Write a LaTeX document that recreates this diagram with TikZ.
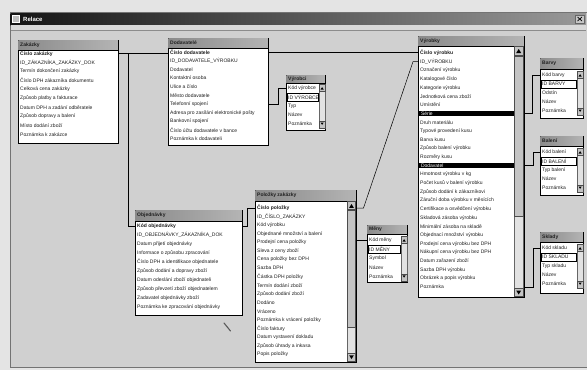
\documentclass[tikz,border=0pt]{standalone}
\usepackage{fontspec}
\setmainfont{Liberation Sans}
\usetikzlibrary{calc}
\definecolor{outer}{HTML}{E4E4E4}
\definecolor{client}{HTML}{D0D0D0}
\definecolor{hdrL}{HTML}{8A8A8A}
\definecolor{hdrR}{HTML}{B4B4B4}
\definecolor{hdrtxt}{HTML}{202020}
\definecolor{txt}{HTML}{1E1E1E}
\definecolor{sbtrack}{HTML}{E2E2E2}
\definecolor{sbbtn}{HTML}{C4C4C4}
\tikzset{
  tbox/.style={draw=black, line width=0.5pt, fill=white, rectangle, inner sep=0pt},
  rowtext/.style={font=\fontsize{5}{6}\selectfont, text=txt, inner sep=0pt, anchor=west},
  hdrtext/.style={font=\fontsize{5}{6}\selectfont\bfseries, text=hdrtxt, inner sep=0pt, anchor=west},
  link/.style={draw=black, line width=0.5pt},
  sbar/.style={fill=sbtrack, draw=black!60, line width=0.3pt},
  sbtn/.style={fill=sbbtn, draw=black!70, line width=0.3pt},
}
\newcommand\hlrow[1]{\setlength{\fboxsep}{0.8pt}\hspace*{-1.5pt}\colorbox{black}{\makebox[94pt][l]{\hspace*{1.5pt}\textcolor{white}{#1}}}}
\def\hh{10}
% #1 name, #2 x, #3 y, #4 w, #5 h, #6 title, #7 first row offset, #8 spacing, #9 rows
\newcommand\flist[9]{%
  \node[tbox, minimum width=#4pt, minimum height=#5pt, anchor=north west] (#1) at (#2,#3) {};
  \shade[left color=hdrL, right color=hdrR] ({#2+0.25},{#3+0.25}) rectangle ({#2+#4-0.25},{#3+\hh});
  \draw[line width=0.4pt] ({#2},{#3+\hh}) -- ({#2+#4},{#3+\hh});
  \node[hdrtext] (#1-t) at ({#2+2},{#3+\hh/2}) {#6};
  \foreach \txt [count=\i] in {#9} {
    \node[rowtext] (#1-r\i) at ({#2+2},{#3+#7+(\i-1)*#8}) {\txt};
  }
}
% small table extras: focus box on row 2, scroll arrows
\newcommand\smallextras[1]{%
  \draw[line width=0.3pt] ($(#1.west |- #1-r2)+(1,-4)$) rectangle ($(#1.east |- #1-r2)+(-7,4)$);
  \filldraw[sbar] ($(#1.east |- #1-r1)+(-6,-4)$) rectangle ($(#1.east |- #1-r5)+(-0.8,4)$);
  \filldraw[sbtn] ($(#1.east |- #1-r1)+(-6,-4)$) rectangle ($(#1.east |- #1-r1)+(-0.8,3)$);
  \filldraw[sbtn] ($(#1.east |- #1-r5)+(-6,-3)$) rectangle ($(#1.east |- #1-r5)+(-0.8,4)$);
  \fill ($(#1.east |- #1-r1)+(-5,1.5)$) -- ++(3.2,0) -- ++(-1.6,-2.4) -- cycle;
  \fill ($(#1.east |- #1-r5)+(-5,-1.5)$) -- ++(3.2,0) -- ++(-1.6,2.4) -- cycle;
}
\begin{document}
\begin{tikzpicture}[x=1pt,y=-1pt]
\useasboundingbox (0,0) rectangle (587,370);
% backgrounds
\fill[outer] (0,0) rectangle (587,370);
\filldraw[fill=client, draw=black!55, line width=0.6pt] (10,12) rectangle (590,367);
\shade[left color=black!92, right color=black!40] (10.5,13.5) rectangle (586,25);
\fill[black!15] (10.5,25) rectangle (586,30);
\draw[black!45, line width=0.4pt] (10.5,30) -- (586,30);
% title bar content
\filldraw[fill=black!25, draw=white!80, line width=0.3pt] (12.5,15.5) rectangle (19,22.5);
\node[font=\fontsize{6}{7}\selectfont\bfseries, text=white, inner sep=0pt, anchor=west] (wtitle) at (23,19.3) {Relace};
\filldraw[fill=black!22, draw=black!60, line width=0.3pt] (575,15) rectangle (584.5,23);
\draw[line width=0.7pt, black] (577.5,17) -- (582,21) (577.5,21) -- (582,17);

% ---- tables ----
\def\hh{10}
\flist{t1}{18}{40}{100}{103}{Zakázky}{13.5}{9}{{\textbf{Číslo zakázky}},ID\_ZÁKAZNÍKA\_ZAKÁZKY\_DOK,Termín dokončení zakázky,Číslo DPH zákazníka dokumentu,Celková cena zakázky,Způsob platby a fakturace,Datum DPH a zadání odběratele,Způsob dopravy a balení,Místo dodání zboží,Poznámka k zakázce}

\flist{t2}{168}{38}{100}{107}{Dodavatelé}{14}{8.7}{{\textbf{Číslo dodavatele}},ID\_DODAVATELE\_VÝROBKU,Dodavatel,Kontaktní osoba,Ulice a číslo,Město dodavatele,Telefonní spojení,Adresa pro zasílání elektronické pošty,Bankovní spojení,Číslo účtu dodavatele v bance,Poznámka k dodavateli}

\def\hh{8}
\flist{t3}{286}{75}{39}{55}{Výrobci}{13}{9}{Kód výrobce,ID VÝROBCE,Typ,Název,Poznámka}
\smallextras{t3}

\def\hh{11}
\flist{t4}{135}{210}{107}{105}{Objednávky}{16}{9}{{\textbf{Kód objednávky}},ID\_OBJEDNÁVKY\_ZÁKAZNÍKA\_DOK,Datum přijetí objednávky,Informace o způsobu zpracování,Číslo DPH a identifikace objednatele,Způsob dodání a dopravy zboží,Datum odeslání zboží objednateli,Způsob převzetí zboží objednatelem,Zadavatel objednávky zboží,Poznámka ke zpracování objednávky}

\def\hh{10}
\flist{t5}{418}{36}{106}{261}{Výrobky}{17}{8.67}{{\textbf{Číslo výrobku}},ID\_VÝROBKU,Označení výrobku,Katalogové číslo,Kategorie výrobku,Jednotková cena zboží,Umístění,{\hlrow{Série}},Druh materiálu,Typové provedení kusu,Barva kusu,Způsob balení výrobku,Rozměry kusu,{\hlrow{Dodavatel}},Hmotnost výrobku v kg,Počet kusů v balení výrobku,Způsob dodání k zákazníkovi,Záruční doba výrobku v měsících,Certifikace a osvědčení výrobku,Skladová zásoba výrobku,Minimální zásoba na skladě,Objednací množství výrobku,Prodejní cena výrobku bez DPH,Nákupní cena výrobku bez DPH,Datum zařazení zboží,Sazba DPH výrobku,Obrázek a popis výrobku,Poznámka}
% scrollbar of t5
\filldraw[sbar] (514,46.5) rectangle (523.6,296.6);
\filldraw[sbtn] (514,46.5) rectangle (523.6,55);
\filldraw[sbtn] (514,288) rectangle (523.6,296.6);
\filldraw[sbtn] (514,56) rectangle (523.6,216);
\fill (516.2,53) -- ++(5,0) -- ++(-2.5,-4) -- cycle;
\fill (516.2,290.5) -- ++(5,0) -- ++(-2.5,4) -- cycle;

\def\hh{11}
\flist{t6}{540}{58}{43}{60}{Barvy}{17}{9}{Kód barvy,ID BARVY,Odstín,Název,Poznámka}
\smallextras{t6}
\def\hh{10}
\flist{t7}{540}{136}{43}{59}{Balení}{16}{9}{Kód balení,ID BALENÍ,Typ balení,Název,Poznámka}
\smallextras{t7}
\flist{t8}{540}{232}{43}{61}{Sklady}{16}{9}{Kód skladu,ID SKLADU,Typ skladu,Název,Poznámka}
\smallextras{t8}

\def\hh{11}
\flist{t9}{255}{190}{101}{172}{Položky zakázky}{18}{8.6}{{\textbf{Číslo položky}},ID\_ČÍSLO\_ZAKÁZKY,Kód výrobku,Objednané množství a balení,Prodejní cena položky,Sleva z ceny zboží,Cena položky bez DPH,Sazba DPH,Částka DPH položky,Termín dodání zboží,Způsob dodání zboží,Dodáno,Vráceno,Poznámka k vrácení položky,Číslo faktury,Datum vystavení dokladu,Způsob úhrady a inkasa,Popis položky}
% scrollbar of t9
\filldraw[sbar] (347.5,201.5) rectangle (355.6,361.6);
\filldraw[sbtn] (347.5,201.5) rectangle (355.6,209.5);
\filldraw[sbtn] (347.5,353.5) rectangle (355.6,361.6);
\filldraw[sbtn] (347.5,210.5) rectangle (355.6,327);
\fill (349.2,207.8) -- ++(4.6,0) -- ++(-2.3,-3.8) -- cycle;
\fill (349.2,355.3) -- ++(4.6,0) -- ++(-2.3,3.8) -- cycle;

\def\hh{9}
\flist{t10}{367}{225}{40}{57}{Měny}{15}{9.2}{Kód měny,ID MĚNY,Symbol,Název,Poznámka}
\smallextras{t10}

% ---- relationships ----
\draw[link] (t1.east |- t1-r1) -- (t2.west |- t1-r1);
\draw[link] (t1.east |- t1-r1) -- ++(10,0) |- (t4.west |- t4-r1);
\draw[link] (t2.east |- t2-r1) -- (t5.west |- t2-r1);
\draw[link] (t2.east |- t2-r7) -- ++(10,0) |- (t3.west |- t3-r1);
\draw[link] (t4.east |- t4-r1) -- ++(5,0) |- (t9.west |- t9-r1);
\draw[link] (t9.east |- t9-r1) -- ++(7,0) -- ($(t5.west |- t5-r2)+(-5,0)$) -- (t5.west |- t5-r2);
\draw[link] (t9.east |- t10-r1) -- (t10.west |- t10-r1);
\draw[link] (t5.east |- t5-r8) -- ++(8,0) |- (t6.west |- t6-r1);
\draw[link] (t5.east |- t5-r14) -- ++(9,0) |- (t7.west |- t7-r1);
\draw[link] (t5.east |- t5-r28) -- ++(9,0) |- (t8.west |- t8-r1);

% mouse pointer trace
\draw[line width=1.1pt, black!65, line cap=round] (224,323) -- (230.5,331);
\end{tikzpicture}
\end{document}
